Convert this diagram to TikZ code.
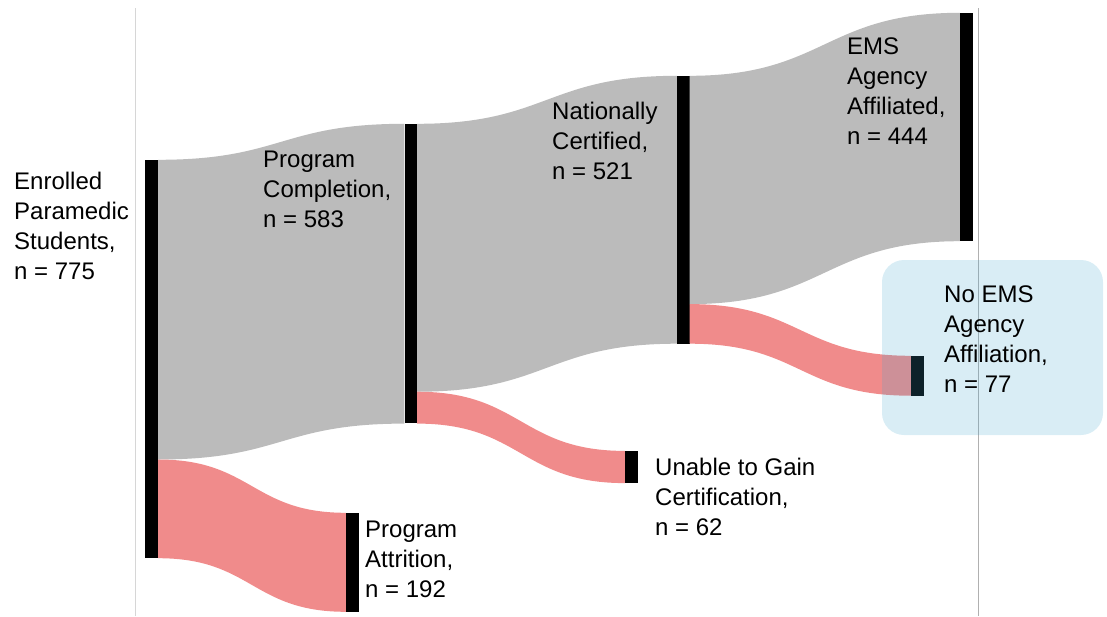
\documentclass[tikz,border=0pt]{standalone}
\usepackage{fontspec}
\setmainfont{Liberation Sans}
\usetikzlibrary{calc}

\definecolor{flowgray}{RGB}{187,187,187}
\definecolor{flowred}{RGB}{240,139,139}
\definecolor{hlblue}{RGB}{65,165,205}
\definecolor{guideL}{RGB}{214,214,214}
\definecolor{guideR}{RGB}{176,176,176}

% ribbon between two bar edges: #1/#2 source top/bottom, #3/#4 target top/bottom
\newcommand\ribbon[5]{%
  \fill[#5] let \p1=(#1), \p2=(#2), \p3=(#3), \p4=(#4), \n1={(\x1+\x3)/2} in
    (\p1) .. controls (\n1,\y1) and (\n1,\y3) .. (\p3)
    -- (\p4) .. controls (\n1,\y4) and (\n1,\y2) .. (\p2) -- cycle;}

\newcommand\lines[1]{\begin{tabular}[t]{@{}l@{}}#1\end{tabular}}

\begin{document}
\begin{tikzpicture}[x=1pt, y=-1pt,
  bar/.style={rectangle, fill=black, draw=none, inner sep=0pt, minimum width=12.5pt},
  lbl/.style={inner sep=0pt, anchor=base west, font=\fontsize{24}{30}\selectfont},
  grayflow/.style={fill=flowgray},
  redflow/.style={fill=flowred}]
\useasboundingbox (0,0) rectangle (1107,616);

% vertical guide lines
\draw[guideL, line width=0.9pt] (135,8) -- (135,616);
\draw[guideR, line width=0.9pt] (978,8) -- (978,616);

% stage bars
\node[bar, minimum width=13pt, minimum height=398pt] (enr)   at (151.5,359)    {};
\node[bar, minimum height=299.4pt] (comp)  at (410.75,273.7)  {};
\node[bar, minimum height=98.6pt]  (att)   at (352.25,562.3)  {};
\node[bar, minimum height=267.5pt] (cert)  at (683.25,209.75) {};
\node[bar, minimum height=31.8pt]  (unab)  at (631.25,467)    {};
\node[bar, minimum height=228pt]   (ems)   at (966.25,127)    {};
\node[bar, minimum height=39.5pt]  (noems) at (917.25,375.75) {};

% split points on the source bars
\coordinate (enrS)  at ($(enr.north east)!0.75226!(enr.south east)$);
\coordinate (compS) at ($(comp.north east)!0.89365!(comp.south east)$);
\coordinate (certS) at ($(cert.north east)!0.85221!(cert.south east)$);

% flows
\ribbon{enr.north east}{enrS}{comp.north west}{comp.south west}{grayflow}
\ribbon{enrS}{enr.south east}{att.north west}{att.south west}{redflow}
\ribbon{comp.north east}{compS}{cert.north west}{cert.south west}{grayflow}
\ribbon{compS}{comp.south east}{unab.north west}{unab.south west}{redflow}
\ribbon{cert.north east}{certS}{ems.north west}{ems.south west}{grayflow}
\ribbon{certS}{cert.south east}{noems.north west}{noems.south west}{redflow}

% highlight box
\node[rectangle, rounded corners=22pt, fill=hlblue, fill opacity=0.2,
      minimum width=221pt, minimum height=175pt, inner sep=0pt] (hl) at (992.5,347.5) {};

% labels
\node[lbl] (tEnr)   at (14,189.5) {\lines{Enrolled\\ Paramedic\\ Students,\\ n = 775}};
\node[lbl] (tComp)  at (263,167)  {\lines{Program\\ Completion,\\ n = 583}};
\node[lbl] (tAtt)   at (365,537)  {\lines{Program\\ Attrition,\\ n = 192}};
\node[lbl] (tCert)  at (552,119)  {\lines{Nationally\\ Certified,\\ n = 521}};
\node[lbl] (tUnab)  at (655,475)  {\lines{Unable to Gain\\ Certification,\\ n = 62}};
\node[lbl] (tEms)   at (847,54)   {\lines{EMS\\ Agency\\ Affiliated,\\ n = 444}};
\node[lbl] (tNoems) at (944,302)  {\lines{No EMS\\ Agency\\ Affiliation,\\ n = 77}};
\end{tikzpicture}
\end{document}
